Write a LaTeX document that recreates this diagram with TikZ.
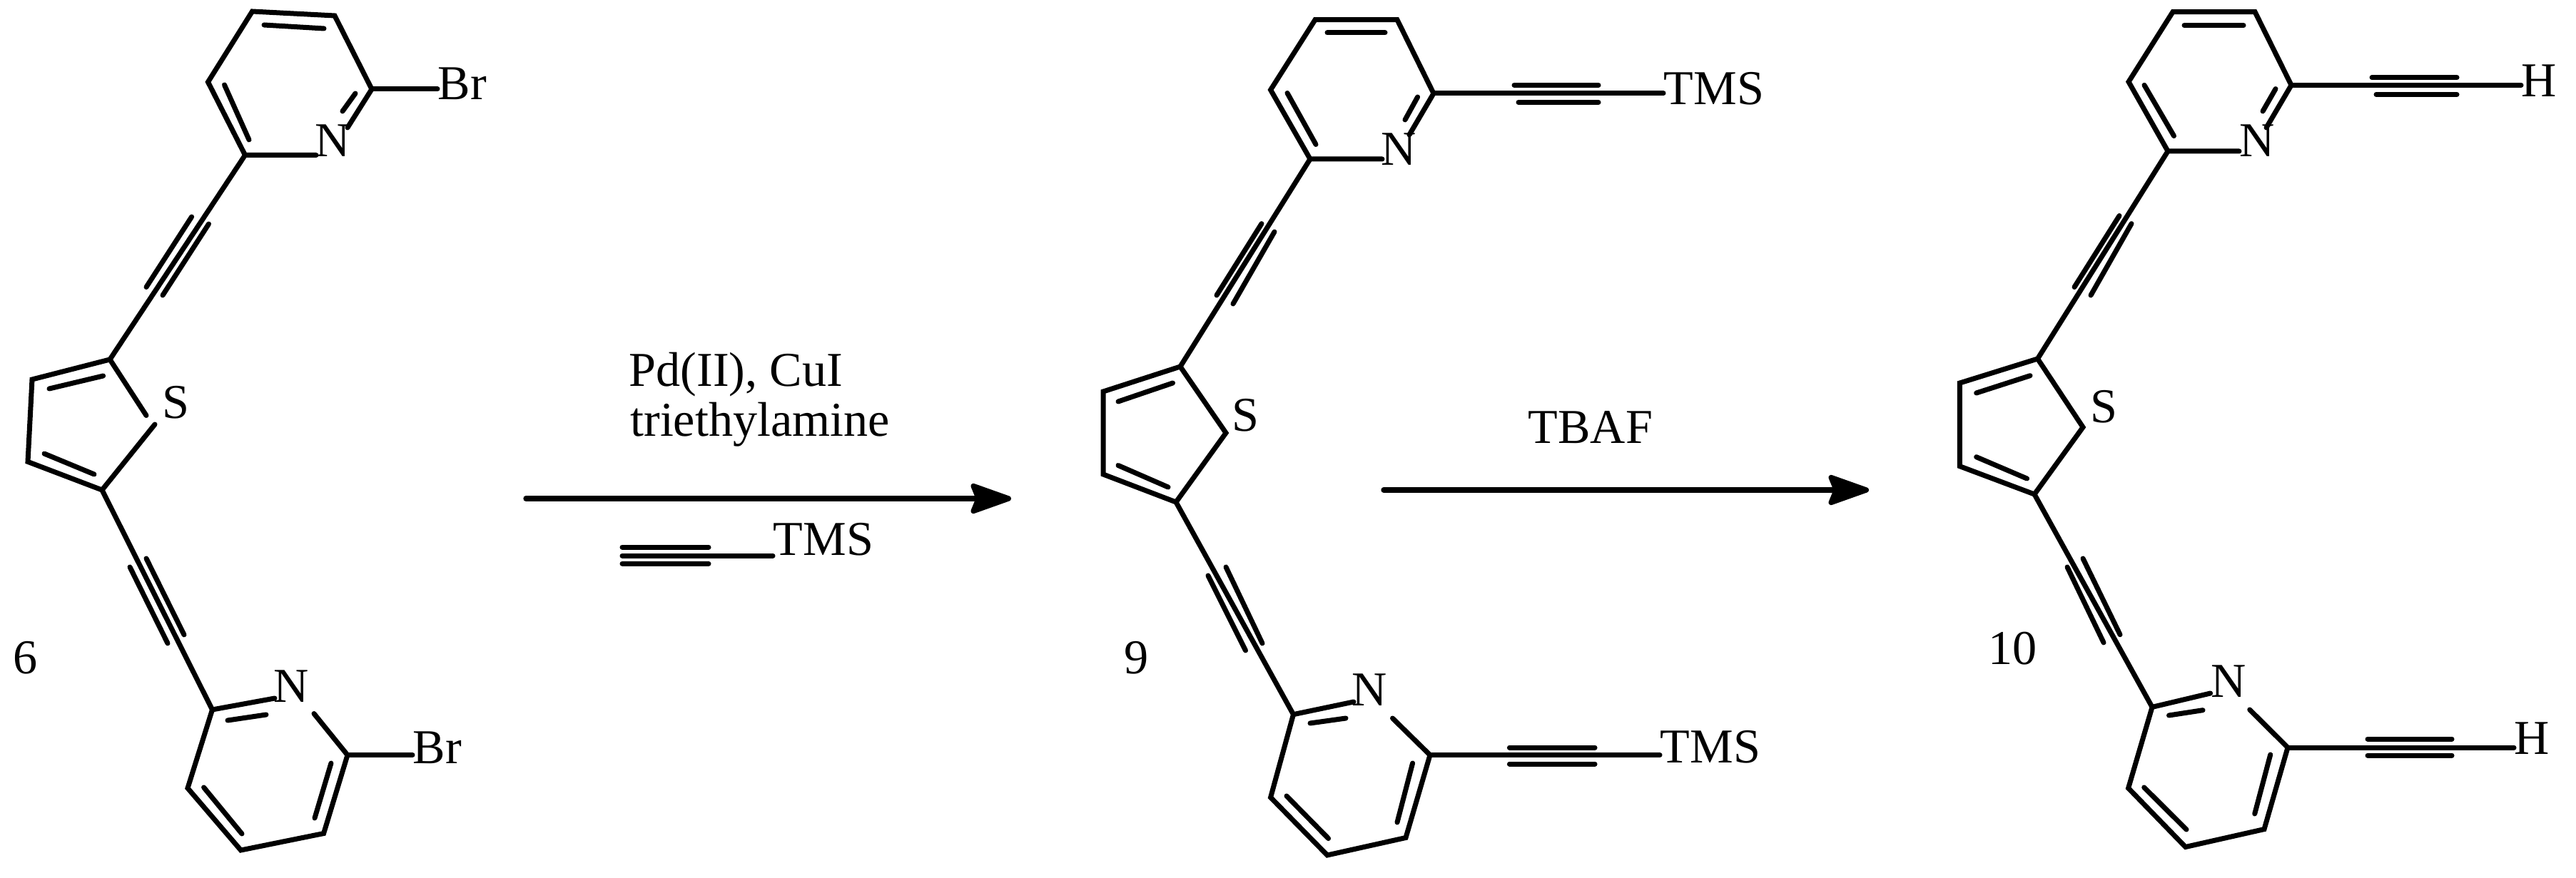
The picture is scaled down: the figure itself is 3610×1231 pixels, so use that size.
\documentclass[tikz,border=0pt]{standalone}
\usepackage{fontspec}
\setmainfont{Liberation Serif}
\usetikzlibrary{arrows.meta}
\tikzset{
  bond/.style={line width=0.07cm,line cap=round},
  rxn/.style={line width=0.073cm,line cap=round,-{Stealth[round,length=0.66cm,width=0.46cm,inset=0.09cm]}},
  chem/.style={inner sep=0pt,font=\fontsize{19.4}{21}\selectfont}
}
\begin{document}
\begin{tikzpicture}[x=0.01cm,y=-0.01cm]
        \useasboundingbox (0,0) rectangle (3610,1231);
        % compound 6
        \coordinate (pta) at (353.5,16);
        \coordinate (ptb) at (469,22);
        \coordinate (ptc) at (521,125);
        \coordinate (ptd) at (343.5,217.5);
        \coordinate (pte) at (291.5,115);
        \coordinate (ntc) at (487,179);
        \coordinate (ntd) at (443,217.5);
        \coordinate (tha) at (154,504);
        \coordinate (thb) at (45,532);
        \coordinate (thc) at (39,647.4);
        \coordinate (thd) at (143,687);
        \coordinate (sa) at (205,582.5);
        \coordinate (sd) at (217,595);
        \coordinate (pba) at (297.5,995);
        \coordinate (pbb) at (263,1105);
        \coordinate (pbc) at (337.5,1192);
        \coordinate (pbd) at (453.6,1168.5);
        \coordinate (pbe) at (487,1058.6);
        \coordinate (nba) at (385,979);
        \coordinate (nbe) at (440,1000.5);
        \node[chem,anchor=base west] (nt) at (441,220) {N};
        \node[chem,anchor=base west] (brt) at (613,140) {Br};
        \node[chem,anchor=base west] (st) at (227,587) {S};
        \node[chem,anchor=base west] (nb) at (383,984) {N};
        \node[chem,anchor=base west] (brb) at (578,1070) {Br};
        \node[chem,anchor=base west] (nrsix) at (18,944) {6};
        \draw[bond] (ntd) -- (ptd) -- (pte) -- (pta) -- (ptb) -- (ptc) -- (ntc);
        \draw[bond] (370,35) -- (454,40);
        \draw[bond] (314.5,119) -- (349,196);
        \draw[bond] (498,131) -- (480,156);
        \draw[bond] (ptc) -- (ptc -| brt.west);
        \draw[bond] (ptd) -- (tha);
        \draw[bond] (268.6,304) -- (205,402.5);
        \draw[bond] (292.5,314) -- (228,414);
        \draw[bond] (sa) -- (tha) -- (thb) -- (thc) -- (thd) -- (sd);
        \draw[bond] (144.6,527) -- (69,545);
        \draw[bond] (62,636) -- (132,665);
        \draw[bond] (thd) -- (pba);
        \draw[bond] (205,783) -- (258,890);
        \draw[bond] (182,795) -- (235,902);
        \draw[bond] (nba) -- (pba) -- (pbb) -- (pbc) -- (pbd) -- (pbe) -- (nbe);
        \draw[bond] (319,1010) -- (373,1002);
        \draw[bond] (464,1070) -- (441,1147);
        \draw[bond] (339,1169) -- (285.6,1104);
        \draw[bond] (pbe) -- (pbe -| brb.west);
        % first step
        \coordinate (arrowa) at (737,699);
        \coordinate (arrowb) at (1417,699);
        \coordinate (yne) at (872,779);
        \node[chem,anchor=base west] (cat) at (881,541.7) {Pd(II), CuI};
        \node[chem,anchor=base west] (base) at (882.6,611.7) {triethylamine};
        \node[chem,anchor=base west] (tmsreag) at (1083,778) {TMS};
        \draw[rxn] (arrowa) -- (arrowb);
        \draw[bond] (yne) -- (yne -| tmsreag.west);
        \draw[bond] (872,767) -- (993,767);
        \draw[bond] (872,790) -- (993,790);
        % compound 9
        \coordinate (qta) at (1843,27.7);
        \coordinate (qtb) at (1958,27.7);
        \coordinate (qtc) at (2009,131);
        \coordinate (qtd) at (1836,223);
        \coordinate (qte) at (1780.6,126);
        \coordinate (mtc) at (1975,189);
        \coordinate (mtd) at (1937,223);
        \coordinate (sha) at (1654,514);
        \coordinate (shb) at (1546,549);
        \coordinate (shc) at (1546,665);
        \coordinate (shd) at (1648,704);
        \coordinate (skink) at (1718,607);
        \coordinate (qba) at (1812.5,1001.7);
        \coordinate (qbb) at (1780.6,1118);
        \coordinate (qbc) at (1860,1199);
        \coordinate (qbd) at (1970,1174.5);
        \coordinate (qbe) at (2004,1058.6);
        \coordinate (mba) at (1897,984);
        \coordinate (mbe) at (1951.5,1007);
        \node[chem,anchor=base west] (mt) at (1935,232) {N};
        \node[chem,anchor=base west] (tmst) at (2331,147) {TMS};
        \node[chem,anchor=base west] (sm) at (1726,604) {S};
        \node[chem,anchor=base west] (mb) at (1894,989) {N};
        \node[chem,anchor=base west] (tmsb) at (2326,1069.7) {TMS};
        \node[chem,anchor=base west] (nrnine) at (1575,944) {9};
        \draw[bond] (mtd) -- (qtd) -- (qte) -- (qta) -- (qtb) -- (qtc) -- (mtc);
        \draw[bond] (1860,46) -- (1941,46);
        \draw[bond] (1804,130.5) -- (1844,202.5);
        \draw[bond] (1986.6,136) -- (1969,168);
        \draw[bond] (qtc) -- (qtc -| tmst.west);
        \draw[bond] (2122,119.4) -- (2240,119.4);
        \draw[bond] (2128,143.5) -- (2240,143.5);
        \draw[bond] (qtd) -- (sha);
        \draw[bond] (1768,313.6) -- (1705,414);
        \draw[bond] (1786,325) -- (1728,426);
        \draw[bond] (sha) -- (shb) -- (shc) -- (shd) -- (skink) -- cycle;
        \draw[bond] (1643.5,537) -- (1567,563);
        \draw[bond] (1567,652.5) -- (1637,683);
        \draw[bond] (shd) -- (qba);
        \draw[bond] (1718,795) -- (1769,902);
        \draw[bond] (1693,807) -- (1745.5,912);
        \draw[bond] (mba) -- (qba) -- (qbb) -- (qbc) -- (qbd) -- (qbe) -- (mbe);
        \draw[bond] (1836,1014) -- (1886,1007);
        \draw[bond] (1979.6,1070) -- (1958,1153);
        \draw[bond] (1861.6,1175.6) -- (1803,1116);
        \draw[bond] (qbe) -- (qbe -| tmsb.west);
        \draw[bond] (2115.4,1048) -- (2235,1048);
        \draw[bond] (2115.4,1071) -- (2235,1071);
        % second step
        \coordinate (arrowc) at (1939,687);
        \coordinate (arrowd) at (2619,687);
        \node[chem,anchor=base west] (tbaf) at (2141,622) {TBAF};
        \draw[rxn] (arrowc) -- (arrowd);
        % compound 10
        \coordinate (rta) at (3045,16.6);
        \coordinate (rtb) at (3160,16.6);
        \coordinate (rtc) at (3211,119.4);
        \coordinate (rtd) at (3038,212);
        \coordinate (rte) at (2983,114.7);
        \coordinate (ltc) at (3176,179);
        \coordinate (ltd) at (3138,212);
        \coordinate (uha) at (2855.5,503);
        \coordinate (uhb) at (2746.4,537);
        \coordinate (uhc) at (2746.4,653.7);
        \coordinate (uhd) at (2851,693);
        \coordinate (ukink) at (2919,599);
        \coordinate (rba) at (3016,991.4);
        \coordinate (rbb) at (2982.6,1105);
        \coordinate (rbc) at (3062.7,1187.5);
        \coordinate (rbd) at (3173,1162.6);
        \coordinate (rbe) at (3206,1048);
        \coordinate (lba) at (3097.6,972);
        \coordinate (lbe) at (3152.7,995);
        \node[chem,anchor=base west] (lt) at (3138,220) {N};
        \node[chem,anchor=base west] (ht) at (3533,136) {H};
        \node[chem,anchor=base west] (su) at (2929,593) {S};
        \node[chem,anchor=base west] (lb) at (3098,977) {N};
        \node[chem,anchor=base west] (hb) at (3523,1057.8) {H};
        \node[chem,anchor=base west] (nrten) at (2786,931) {10};
        \draw[bond] (ltd) -- (rtd) -- (rte) -- (rta) -- (rtb) -- (rtc) -- (ltc);
        \draw[bond] (3061,35.6) -- (3144,35.6);
        \draw[bond] (3005,119.4) -- (3046.5,190.6);
        \draw[bond] (3189,124.6) -- (3171,156);
        \draw[bond] (rtc) -- (rtc -| ht.west);
        \draw[bond] (3324,108.7) -- (3443,108.7);
        \draw[bond] (3330,132.5) -- (3443,132.5);
        \draw[bond] (rtd) -- (uha);
        \draw[bond] (2970,302.5) -- (2907,402.5);
        \draw[bond] (2987,313.6) -- (2930,414);
        \draw[bond] (uha) -- (uhb) -- (uhc) -- (uhd) -- (ukink) -- cycle;
        \draw[bond] (2845,526.7) -- (2769.6,551);
        \draw[bond] (2769.6,640.7) -- (2840.5,671);
        \draw[bond] (uhd) -- (rba);
        \draw[bond] (2919,783) -- (2971,889.8);
        \draw[bond] (2897,795) -- (2948,901);
        \draw[bond] (lba) -- (rba) -- (rbb) -- (rbc) -- (rbd) -- (rbe) -- (lbe);
        \draw[bond] (3039.5,1003) -- (3087,995.7);
        \draw[bond] (3181.7,1058) -- (3159.7,1141);
        \draw[bond] (3064,1163) -- (3004.7,1104);
        \draw[bond] (rbe) -- (rbe -| hb.west);
        \draw[bond] (3318,1036) -- (3436,1036);
        \draw[bond] (3318,1059) -- (3436,1059);
\end{tikzpicture}
\end{document}
